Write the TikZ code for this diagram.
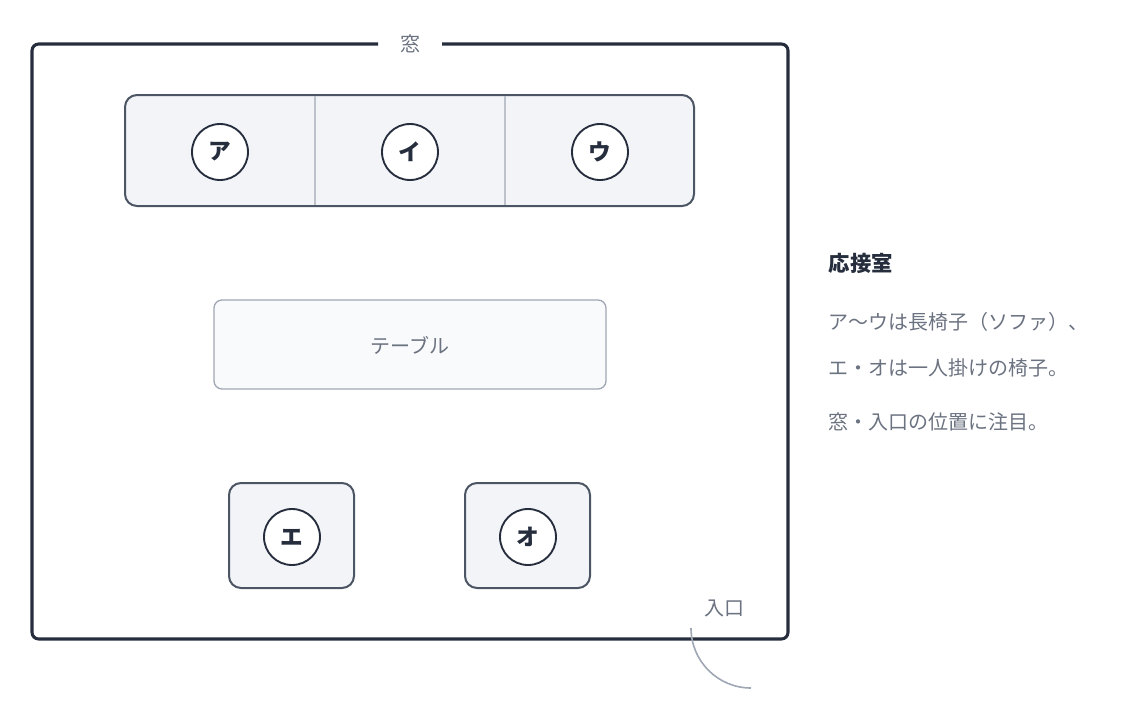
\documentclass[tikz,border=0pt]{standalone}
\usepackage{fontspec}
\setmainfont{Noto Sans CJK JP}
\usetikzlibrary{positioning}
\definecolor{ink}{HTML}{262D3D}
\definecolor{frame}{HTML}{4B5563}
\definecolor{soft}{HTML}{F3F4F8}
\definecolor{note}{HTML}{6B7280}
\definecolor{rule}{HTML}{A0A7B4}
\tikzset{
  sofa/.style={draw=frame, fill=soft, line width=1.5pt, rounded corners=9pt},
  seat/.style={circle, draw=ink, fill=white, line width=1.4pt, minimum size=42pt, inner sep=0pt, font=\fontsize{17}{17}\selectfont\bfseries, text=ink},
  label/.style={text=note, font=\fontsize{15}{15}\selectfont}
}
\begin{document}
\begin{tikzpicture}[x=0.75pt,y=-0.75pt]
   \useasboundingbox (0,0) rectangle (1140,718);

   % room with window gap
   \draw[ink, line width=2.3pt, rounded corners=5pt] (378,44) -- (32,44) -- (32,639) -- (788,639) -- (788,44) -- (442,44);
   \node[label] (window) at (410,44) {窓};

   % sofa
   \draw[sofa] (125,95) rectangle (694,206);
   \draw[rule!70, line width=1pt] (315,96) -- (315,205) (505,96) -- (505,205);
   \node[seat] (a) at (220,152) {ア};
   \node[seat] (i) at (410,152) {イ};
   \node[seat] (u) at (600,152) {ウ};

   % table
   \draw[rule, fill=soft!50, line width=1pt, rounded corners=6pt] (214,300) rectangle (606,389);
   \node[label] (table) at (410,345) {テーブル};

   % chairs
   \draw[sofa] (229,483) rectangle (354,588);
   \draw[sofa] (465,483) rectangle (590,588);
   \node[seat] (e) at (292,537) {エ};
   \node[seat] (o) at (528,537) {オ};

   % entrance
   \node[label] (entrance) at (724,608) {入口};
   \draw[rule, line width=1.2pt] (691,628) arc[start angle=180, end angle=90, radius=60];

   % notes
   \node[anchor=west, text=ink, font=\fontsize{16}{16}\selectfont\bfseries] (title) at (824,263) {応接室};
   \node[label, anchor=west] (n1) at (824,322) {ア〜ウは長椅子（ソファ）、};
   \node[label, anchor=west] (n2) at (824,368) {エ・オは一人掛けの椅子。};
   \node[label, anchor=west] (n3) at (824,422) {窓・入口の位置に注目。};
\end{tikzpicture}
\end{document}
